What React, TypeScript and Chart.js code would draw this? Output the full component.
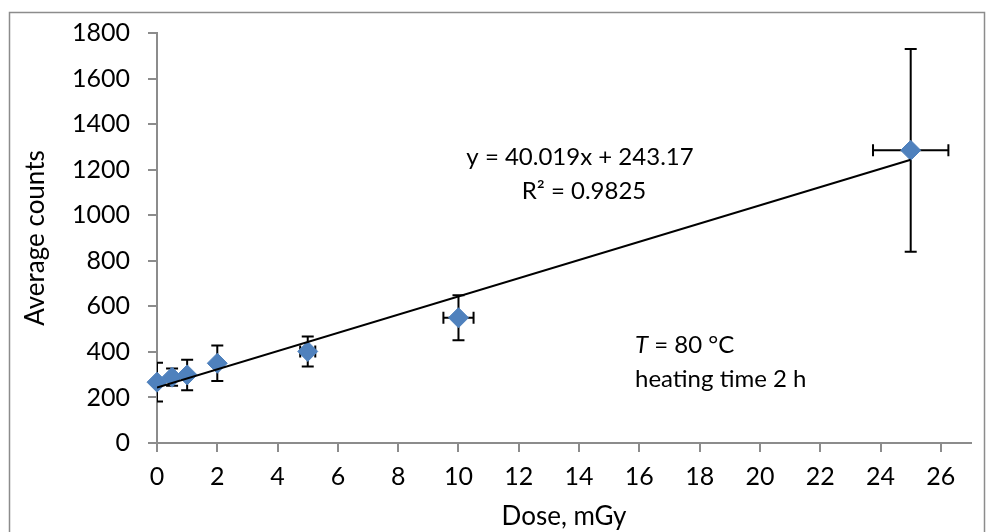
import { useEffect, useRef } from "react";
import { Chart, registerables } from "chart.js";

Chart.register(...registerables);

const doses = [0, 0.5, 1, 2, 5, 10, 25];
const counts = [267, 289, 299, 350, 402, 550, 1285];
const countErrors = [85, 38, 67, 78, 66, 99, 445];
const doseErrors = [0, 0, 0, 0, 0.25, 0.5, 1.25];

const trendSlope = 40.019;
const trendIntercept = 243.17;
const trendRange = [0, 25];

const equationLines = ["y = 40.019x + 243.17", "R\u00B2 = 0.9825"];
const noteItalic = "T";
const noteRest = " = 80 \u00B0C";
const noteLine2 = "heating time 2 h";

const xTitle = "Dose, mGy";
const yTitle = "Average counts";

const FONT = "Lato";
const AXIS_GREY = "#8c8c8c";

const errorBarPlugin = {
  id: "errorBars",
  beforeDatasetDraw(chart: any, args: any) {
    if (args.index !== 1) return;
    const { ctx, chartArea, scales } = chart;
    const xs = scales.x;
    const ys = scales.y;
    const cap = 6;
    ctx.save();
    ctx.beginPath();
    ctx.rect(chartArea.left, chartArea.top - 20, chartArea.right - chartArea.left, chartArea.bottom - chartArea.top + 40);
    ctx.clip();
    ctx.strokeStyle = "#000";
    ctx.lineWidth = 2;
    for (let i = 0; i < doses.length; i++) {
      const px = xs.getPixelForValue(doses[i]);
      const py = ys.getPixelForValue(counts[i]);
      const top = ys.getPixelForValue(counts[i] + countErrors[i]);
      const bot = ys.getPixelForValue(counts[i] - countErrors[i]);
      ctx.beginPath();
      ctx.moveTo(px, top);
      ctx.lineTo(px, bot);
      ctx.moveTo(px - cap, top);
      ctx.lineTo(px + cap, top);
      ctx.moveTo(px - cap, bot);
      ctx.lineTo(px + cap, bot);
      ctx.stroke();
      if (doseErrors[i] > 0) {
        const l = xs.getPixelForValue(doses[i] - doseErrors[i]);
        const r = xs.getPixelForValue(doses[i] + doseErrors[i]);
        ctx.beginPath();
        ctx.moveTo(l, py);
        ctx.lineTo(r, py);
        ctx.moveTo(l, py - cap);
        ctx.lineTo(l, py + cap);
        ctx.moveTo(r, py - cap);
        ctx.lineTo(r, py + cap);
        ctx.stroke();
      }
    }
    ctx.restore();
  },
  afterDraw(chart: any) {
    const { ctx } = chart;
    ctx.save();
    ctx.fillStyle = "#000";
    ctx.textBaseline = "alphabetic";
    ctx.font = `24px ${FONT}`;
    ctx.textAlign = "center";
    ctx.fillText(equationLines[0], 580, 165);
    ctx.fillText(equationLines[1], 584, 199);
    ctx.textAlign = "left";
    ctx.font = `italic 24px ${FONT}`;
    ctx.fillText(noteItalic, 635, 353);
    const w = ctx.measureText(noteItalic).width;
    ctx.font = `24px ${FONT}`;
    ctx.fillText(noteRest, 635 + w, 353);
    ctx.fillText(noteLine2, 635, 387);
    ctx.strokeStyle = AXIS_GREY;
    ctx.lineWidth = 1.5;
    ctx.strokeRect(9.5, 12.5, 975, 600);
    ctx.restore();
  },
};

export default function App() {
  const ref = useRef<HTMLCanvasElement>(null);
  useEffect(() => {
    document.body.style.margin = "0";
    const canvas = ref.current;
    if (!canvas) return;
    const chart = new Chart(canvas, {
      type: "scatter",
      data: {
        datasets: [
          {
            type: "line",
            label: "trend",
            data: trendRange.map((x) => ({ x, y: trendSlope * x + trendIntercept })),
            borderColor: "#000",
            borderWidth: 2,
            pointRadius: 0,
            fill: false,
          },
          {
            label: "counts",
            data: doses.map((x, i) => ({ x, y: counts[i] })),
            pointStyle: "rectRot",
            pointRadius: 10,
            backgroundColor: "#4F81BD",
            borderColor: "#4F81BD",
            borderWidth: 1,
            clip: false,
          } as any,
        ],
      },
      options: {
        animation: false,
        responsive: false,
        layout: { padding: { top: 29.5, right: 23, left: 0, bottom: 0 } },
        plugins: { legend: { display: false }, tooltip: { enabled: false } },
        scales: {
          x: {
            type: "linear",
            min: 0,
            max: 27,
            afterFit: (s: any) => {
              s.height = 89;
            },
            ticks: {
              stepSize: 2,
              includeBounds: false,
              color: "#000",
              font: { family: FONT, size: 25 },
              padding: 10,
              maxRotation: 0,
              callback: (v: any) => String(v),
            },
            grid: { drawOnChartArea: false, drawTicks: true, tickLength: 9, color: AXIS_GREY, lineWidth: 2 },
            border: { color: AXIS_GREY, width: 2 },
            title: {
              display: true,
              text: xTitle,
              color: "#000",
              font: { family: FONT, size: 26 },
              padding: { top: 0, bottom: 0 },
            },
          },
          y: {
            type: "linear",
            min: 0,
            max: 1800,
            afterFit: (s: any) => {
              s.width = 157;
            },
            ticks: {
              stepSize: 200,
              color: "#000",
              font: { family: FONT, size: 25 },
              padding: 18,
              callback: (v: any) => String(v),
            },
            grid: { drawOnChartArea: false, drawTicks: true, tickLength: 9, color: AXIS_GREY, lineWidth: 2 },
            border: { color: AXIS_GREY, width: 2 },
            title: {
              display: true,
              text: yTitle,
              color: "#000",
              font: { family: FONT, size: 26 },
              padding: { top: 20, bottom: 0 },
            },
          },
        },
      },
      plugins: [errorBarPlugin],
    });
    return () => chart.destroy();
  }, []);
  return (
    <div style={{ width: 994, height: 532 }}>
      <canvas ref={ref} width={994} height={532} style={{ display: "block" }} />
    </div>
  );
}
